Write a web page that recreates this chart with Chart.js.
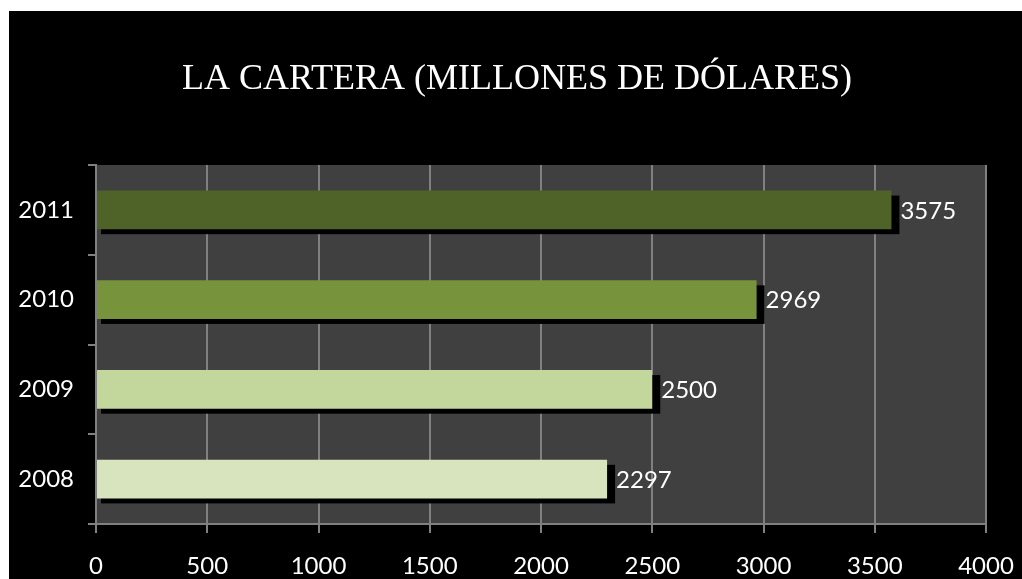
<!DOCTYPE html>
<html>
<head>
<meta charset="utf-8">
<script src="https://cdn.jsdelivr.net/npm/chart.js@4.4.1/dist/chart.umd.min.js"></script>
<style>
    html, body { margin: 0; padding: 0; background: #ffffff; }
    #wrap { width: 1022px; height: 579px; }
</style>
</head>
<body>
<div id="wrap"><canvas id="carteraChart" width="1022" height="579"></canvas></div>
<script>
const chartTitle = 'LA CARTERA (MILLONES DE DÓLARES)';
const years = ['2011', '2010', '2009', '2008'];
const amounts = [3575, 2969, 2500, 2297];
const barColors = ['#4F6228', '#77933C', '#C3D69B', '#D7E4BD'];
const xTicks = [0, 500, 1000, 1500, 2000, 2500, 3000, 3500, 4000];

const labelFont = 'Lato, "Open Sans", sans-serif';

// fondo negro + area de trazado gris + titulo
const backgroundPlugin = {
    id: 'backgroundPlugin',
    beforeDraw(chart) {
        const ctx = chart.ctx;
        const area = chart.chartArea;
        ctx.save();
        ctx.fillStyle = '#000000';
        ctx.fillRect(9, 11, chart.width - 9, chart.height - 11);
        ctx.fillStyle = '#404040';
        ctx.fillRect(area.left, area.top, area.right - area.left, area.bottom - area.top);
        ctx.fillStyle = '#ffffff';
        ctx.font = '36px "Liberation Serif", "DejaVu Serif", serif';
        ctx.textAlign = 'center';
        ctx.textBaseline = 'alphabetic';
        ctx.fillText(chartTitle, 517, 89);
        ctx.restore();
    }
};

// sombra negra detras de cada barra
const shadowPlugin = {
    id: 'shadowPlugin',
    beforeDatasetsDraw(chart) {
        const ctx = chart.ctx;
        const meta = chart.getDatasetMeta(0);
        ctx.save();
        ctx.fillStyle = '#000000';
        meta.data.forEach(bar => {
            const p = bar.getProps(['x', 'y', 'base', 'height'], true);
            ctx.fillRect(p.base + 4, p.y - p.height / 2 + 5, p.x - p.base + 4, p.height);
        });
        ctx.restore();
    }
};

// etiquetas de valor
const valueLabels = {
    id: 'valueLabels',
    afterDatasetsDraw(chart) {
        const ctx = chart.ctx;
        const meta = chart.getDatasetMeta(0);
        ctx.save();
        ctx.fillStyle = '#ffffff';
        ctx.font = '24px ' + labelFont;
        ctx.textBaseline = 'middle';
        ctx.textAlign = 'left';
        meta.data.forEach((bar, i) => {
            ctx.fillText(String(amounts[i]), bar.x + 9, bar.y + 1);
        });
        ctx.restore();
    }
};

new Chart(document.getElementById('carteraChart'), {
    type: 'bar',
    data: {
        labels: years,
        datasets: [{
            data: amounts,
            backgroundColor: barColors,
            borderWidth: 0,
            categoryPercentage: 1,
            barPercentage: 0.43
        }]
    },
    options: {
        indexAxis: 'y',
        responsive: false,
        animation: false,
        layout: {
            padding: { left: 9, right: 36, top: 165, bottom: 0 }
        },
        scales: {
            x: {
                min: 0,
                max: 4000,
                afterBuildTicks(scale) {
                    scale.ticks = xTicks.map(v => ({ value: v }));
                },
                afterFit(scale) {
                    scale.height = 55;
                    scale.paddingLeft = 0;
                    scale.paddingRight = 0;
                },
                grid: {
                    color: '#808080',
                    lineWidth: 2,
                    tickLength: 9
                },
                border: { color: '#808080', width: 2 },
                ticks: {
                    color: '#ffffff',
                    padding: 19,
                    maxRotation: 0,
                    callback: v => String(v),
                    font: { family: labelFont, size: 24 }
                }
            },
            y: {
                afterFit(scale) {
                    scale.width = 87;
                },
                grid: {
                    offset: true,
                    drawOnChartArea: false,
                    color: '#808080',
                    lineWidth: 2,
                    tickLength: 8
                },
                border: { color: '#808080', width: 2 },
                ticks: {
                    color: '#ffffff',
                    padding: 14,
                    font: { family: labelFont, size: 24 }
                }
            }
        },
        plugins: {
            legend: { display: false },
            tooltip: { enabled: false },
            title: { display: false }
        }
    },
    plugins: [backgroundPlugin, shadowPlugin, valueLabels]
});
</script>
</body>
</html>
